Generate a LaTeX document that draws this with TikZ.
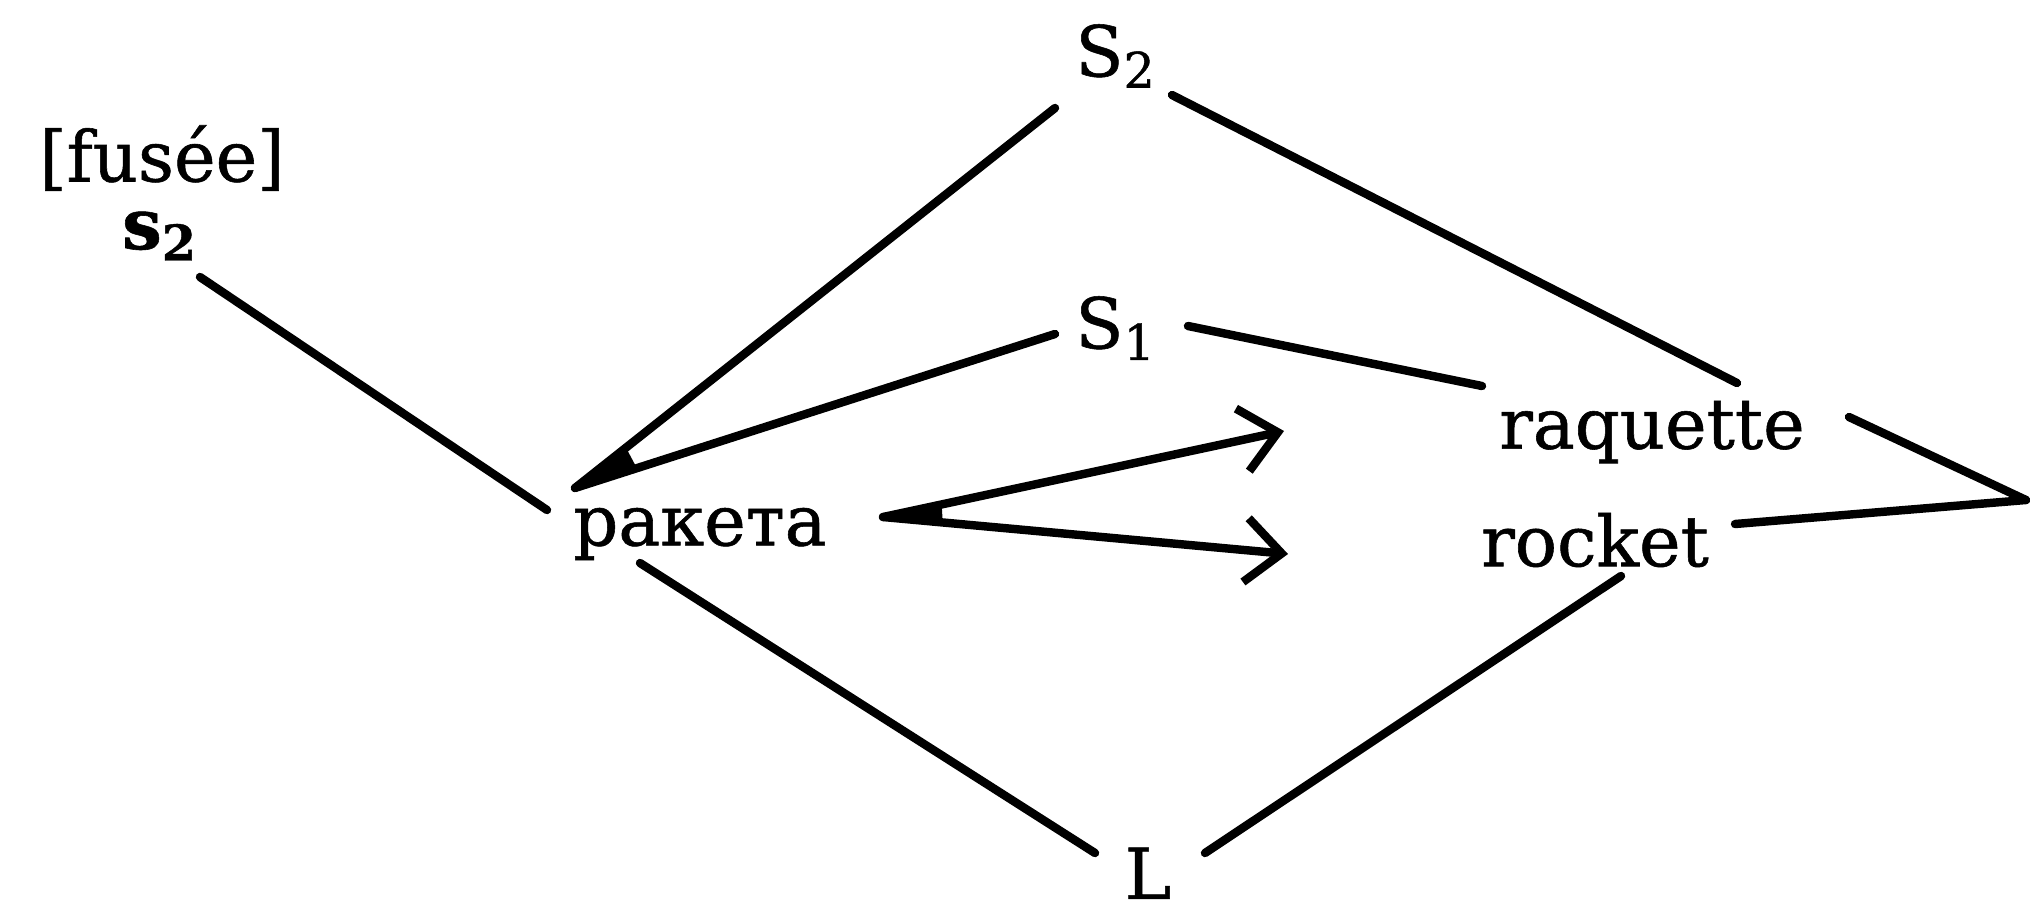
\documentclass[tikz,border=0pt]{standalone}
\usepackage{fontspec}
\setmainfont{DejaVu Serif}[FakeBold=0.8]
\usetikzlibrary{arrows.meta,calc}
\begin{document}
\begin{tikzpicture}[x=0.1mm,y=-0.1mm,
  lbl/.style={inner sep=0pt, font=\fontsize{20}{24}\selectfont},
  conn/.style={line width=2.4pt, line cap=round, line join=round},
  barb/.style={conn, -{Straight Barb[length=3.6mm,width=6.4mm,line width=2.4pt]}}]
\clip (0,0) rectangle (2030,899);
\fill[white] (0,0) rectangle (2030,899);
% nodes
\node[lbl] (fusee) at (162,158) {[fusée]};
\node[lbl, font=\fontsize{20}{24}\selectfont\bfseries] (s2) at (160,236) {s\textsubscript{2}};
\node[lbl] (S2) at (1116,56) {S\textsubscript{2}};
\node[lbl] (S1) at (1116,328) {S\textsubscript{1}};
\node[lbl] (rak) at (700,534) {ракета};
\node[lbl] (raq) at (1652,432) {raquette};
\node[lbl] (roc) at (1595,540) {rocket};
\node[lbl, anchor=north] (L) at (1148,847) {L};
\coordinate (apex) at (2026,500);
% connector ends
\coordinate (tip) at ([shift={(-125,-46)}]rak.center);
\coordinate (a2) at ([shift={(-61,52)}]S2.center);
\coordinate (a1) at ([shift={(-61,6)}]S1.center);
\coordinate (out) at ([shift={(183,-17)}]rak.center);
\coordinate (e1) at ([shift={(-368,-1)}]raq.center);
\coordinate (e2) at ([shift={(-307,14)}]roc.center);
% connectors
\draw[conn] ([shift={(40,41)}]s2.center) -- ([shift={(-153,-24)}]rak.center);
\draw[conn] (a2) -- (tip);
\draw[conn] (a1) -- (tip);
\fill ($(tip)!6.5mm!(a2)$) -- (tip) -- ($(tip)!6.5mm!(a1)$) -- cycle;
\draw[conn] ([shift={(56,39)}]S2.center) -- ([shift={(85,-49)}]raq.center);
\draw[conn] ([shift={(72,-2)}]S1.center) -- ([shift={(-170,-46)}]raq.center);
\draw[barb] (out) -- (e1);
\draw[barb] (out) -- (e2);
\fill ($(out)!6mm!(e1)$) -- (out) -- ($(out)!6mm!(e2)$) -- cycle;
\draw[conn] ([shift={(197,-15)}]raq.center) -- (apex);
\draw[conn] ([shift={(140,-16)}]roc.center) -- (apex);
\draw[conn] ([shift={(-60,29)}]rak.center) -- ([shift={(-53,6)}]L.north);
\draw[conn] ([shift={(26,36)}]roc.center) -- ([shift={(57,6)}]L.north);
\end{tikzpicture}
\end{document}
